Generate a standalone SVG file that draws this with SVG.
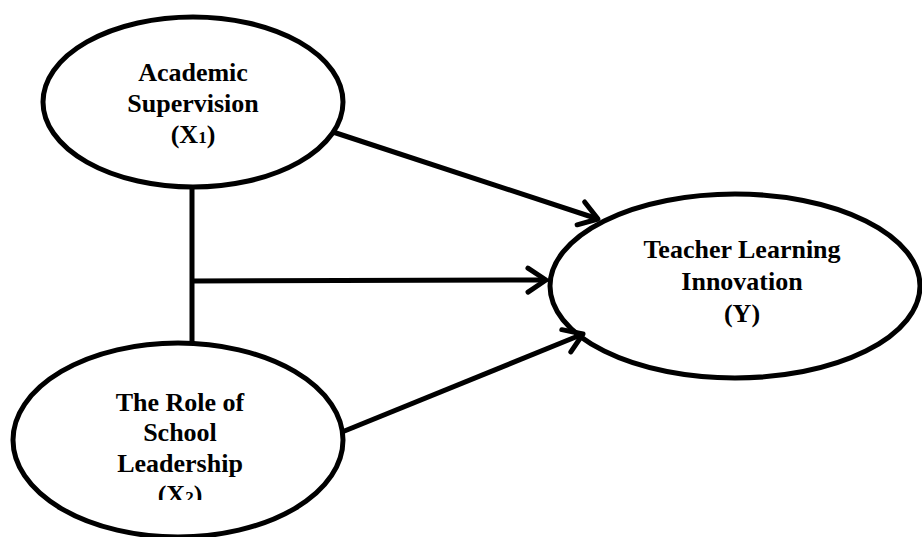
<svg xmlns="http://www.w3.org/2000/svg" width="922" height="537" viewBox="0 0 922 537">
<style>
.node{fill:#fff;stroke:#000;stroke-width:5}
.lbl{font-family:"Liberation Serif","Times New Roman",serif;font-weight:bold;font-size:26px;fill:#000;text-anchor:middle}
.sub{font-size:17px}
.edge{fill:none;stroke:#000;stroke-width:5}
</style>
<defs>
<marker id="arr" markerUnits="userSpaceOnUse" markerWidth="40" markerHeight="40" viewBox="-25 -20 30 40" refX="0" refY="0" orient="auto" overflow="visible">
<path d="M-18,-12 L0,0 L-18,12" fill="none" stroke="#000" stroke-width="5" stroke-linecap="round" stroke-linejoin="round"/>
</marker>
<clipPath id="clipX2"><rect x="0" y="0" width="922" height="500"/></clipPath>
</defs>
<rect width="922" height="537" fill="#fff"/>
<g id="x1">
<ellipse class="node" cx="193" cy="102" rx="150" ry="85"/>
<text class="lbl" x="193" y="81">Academic</text>
<text class="lbl" x="193" y="112">Supervision</text>
<text class="lbl" x="193" y="143">(X<tspan class="sub">1</tspan>)</text>
</g>
<g id="x2">
<ellipse class="node" cx="178" cy="440" rx="165" ry="97"/>
<text class="lbl" x="180" y="411">The Role of</text>
<text class="lbl" x="180" y="441">School</text>
<text class="lbl" x="180" y="472">Leadership</text>
<text class="lbl" x="180" y="503" clip-path="url(#clipX2)">(X<tspan class="sub">2</tspan>)</text>
</g>
<g id="y">
<ellipse class="node" cx="735" cy="286" rx="185" ry="92"/>
<text class="lbl" x="742" y="258">Teacher Learning</text>
<text class="lbl" x="742" y="290">Innovation</text>
<text class="lbl" x="742" y="322">(Y)</text>
</g>
<g id="connectors">
<line class="edge" x1="192" y1="187" x2="192" y2="343"/>
<line class="edge" x1="333" y1="132" x2="598" y2="219" marker-end="url(#arr)"/>
<line class="edge" x1="192" y1="281" x2="546" y2="280" marker-end="url(#arr)"/>
<line class="edge" x1="342" y1="432" x2="583" y2="334" marker-end="url(#arr)"/>
</g>
</svg>
